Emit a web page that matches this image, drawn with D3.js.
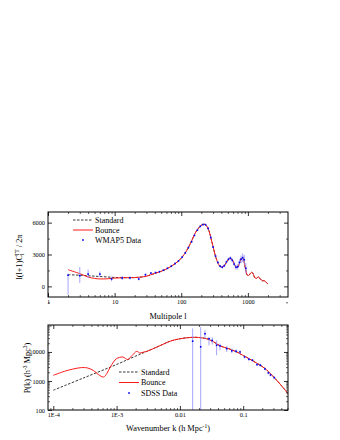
<!DOCTYPE html>
<html>
<head>
<meta charset="utf-8">
<script src="https://cdn.jsdelivr.net/npm/d3@7"></script>
<style>
  body { margin: 0; background: #fff; }
  text { font-family: "Liberation Serif", "Times New Roman", serif; fill: #000; }
</style>
</head>
<body>
<div id="chart"></div>
<script>
// ---- top panel: CMB TT spectrum ----
const ell = [2, 3, 4, 5, 6, 8, 10, 13, 17, 20, 25, 30, 40, 50, 60, 80, 100, 120, 140, 160, 180, 200, 222, 240, 260, 280, 300, 322, 350, 380, 406, 440, 480, 520, 540, 570, 610, 650, 681, 720, 770, 810, 840, 880, 920, 962, 1000, 1050, 1100, 1145, 1200, 1283, 1350, 1439, 1536, 1650, 1750, 1850, 2000];
const clStandard = [1100, 1050, 1000, 960, 930, 880, 840, 820, 820, 830, 880, 960, 1220, 1420, 1640, 2120, 2650, 3350, 4150, 4950, 5450, 5750, 5850, 5700, 5250, 4500, 3750, 2970, 2300, 1900, 1820, 1950, 2300, 2600, 2660, 2580, 2250, 1900, 1780, 1920, 2400, 2700, 2680, 2300, 1650, 1160, 1020, 1080, 1250, 1330, 1180, 790, 760, 900, 700, 520, 550, 420, 230];
const clBounce = [1570, 1200, 880, 750, 700, 720, 780, 810, 820, 830, 880, 960, 1220, 1420, 1640, 2120, 2650, 3350, 4150, 4950, 5450, 5750, 5850, 5700, 5250, 4500, 3750, 2970, 2300, 1900, 1820, 1950, 2300, 2600, 2660, 2580, 2250, 1900, 1780, 1920, 2400, 2700, 2680, 2300, 1650, 1160, 1020, 1080, 1250, 1330, 1180, 790, 760, 900, 700, 520, 550, 420, 230];

const wmapEll = [2, 3, 4, 6, 9, 13, 17, 23, 29, 35, 41, 47, 54, 62, 71, 81, 91, 103, 115, 128, 143, 158, 175, 193, 212, 232, 254, 277, 301, 327, 354, 383, 413, 444, 477, 511, 546, 583, 622, 662, 703, 746, 790, 836, 883, 932];
const wmapVal = [1050, 1000, 1160, 1150, 690, 790, 800, 690, 1100, 1250, 1300, 1380, 1520, 1700, 1900, 2150, 2400, 2750, 3150, 3650, 4200, 4800, 5300, 5650, 5820, 5800, 5450, 4600, 3700, 2850, 2250, 1900, 1800, 1950, 2300, 2550, 2650, 2450, 2100, 1800, 1850, 2250, 2550, 2700, 2500, 1700];
const wmapLo = [-780, 320, 790, 880, 480, 600, 650, 560, 980, 1150, 1220, 1300, 1440, 1620, 1820, 2070, 2320, 2660, 3060, 3560, 4110, 4700, 5200, 5550, 5720, 5700, 5340, 4490, 3590, 2740, 2130, 1780, 1680, 1810, 2150, 2390, 2470, 2250, 1880, 1560, 1590, 1950, 2200, 2300, 2050, 1200];
const wmapHi = [1200, 1820, 1570, 1400, 900, 980, 950, 820, 1220, 1350, 1380, 1460, 1600, 1780, 1980, 2230, 2480, 2840, 3240, 3740, 4290, 4900, 5400, 5750, 5920, 5900, 5560, 4710, 3810, 2960, 2370, 2020, 1920, 2090, 2450, 2710, 2830, 2650, 2320, 2040, 2110, 2550, 2900, 3100, 2950, 2200];

// ---- bottom panel: matter power spectrum ----
const kStd = [1e-4, 3e-4, 1e-3, 2e-3, 3e-3, 5e-3, 7e-3, 0.01, 0.0135, 0.0174, 0.022, 0.028, 0.035, 0.043, 0.06, 0.079, 0.1, 0.136, 0.22, 0.338, 0.51];
const pStd = [480, 1270, 3700, 7200, 10500, 17000, 23500, 28500, 31200, 32000, 30800, 27500, 21500, 16300, 12800, 10000, 7600, 5200, 2700, 1060, 370];
const kBounce = [1e-4, 1.5e-4, 2e-4, 2.8e-4, 3.5e-4, 4.3e-4, 5.2e-4, 6.2e-4, 7e-4, 7.85e-4, 9e-4, 1e-3, 1.25e-3, 1.5e-3, 1.75e-3, 2.08e-3, 2.35e-3, 2.7e-3, 3e-3, 5e-3, 7e-3, 0.01, 0.0135, 0.0174, 0.022, 0.028, 0.035, 0.043, 0.06, 0.079, 0.1, 0.136, 0.22, 0.338, 0.51];
const pBounce = [1570, 2150, 2550, 2900, 2800, 2300, 1650, 1370, 1800, 2900, 4600, 5900, 6700, 5500, 7500, 10500, 9200, 10000, 10500, 17000, 23500, 28500, 31200, 32000, 30800, 27500, 21500, 16300, 12800, 10000, 7600, 5200, 2700, 1060, 370];

const sdssK = [0.0159, 0.0213, 0.0249, 0.0288, 0.0324, 0.038, 0.043, 0.055, 0.066, 0.077, 0.089, 0.105, 0.123, 0.14, 0.165, 0.186, 0.22, 0.25, 0.27, 0.31];
const sdssP = [23500, 15000, 42500, 28600, 25000, 17000, 16200, 13000, 10900, 10600, 10000, 6700, 5600, 5200, 3670, 3500, 2600, 1900, 1600, 1300];
const sdssLo = [60, 60, 29000, 16800, 18000, 7700, 11300, 10000, 9000, 9000, 8800, 6000, 5000, 4700, 3300, 3100, 2350, 1700, 1430, 1160];
const sdssHi = [65000, 72000, 56000, 32000, 32000, 25000, 19400, 16200, 13000, 12300, 11300, 7400, 6200, 5700, 4050, 3900, 2880, 2100, 1780, 1450];

// ticks
const topXTicks = [1, 10, 100, 1000];
const topYTicks = [0, 3000, 6000];
const topYMinor = [-1500, 1500, 4500];
const botXTicks = [1e-4, 1e-3, 0.01, 0.1];
const botXLabels = ['1E-4', '1E-3', '0.01', '0.1'];
const botYTicks = [100, 1000, 10000];

const W = 340, H = 440;
const red = '#ff1a1a';
const blueDot = '#0000ee';
const blueBar = '#8f8fff';

const svg = d3.select('#chart').append('svg')
    .attr('width', W)
    .attr('height', H);
svg.append('rect').attr('width', W).attr('height', H).attr('fill', '#fff');

function minorsLog(lo, hi) {
    const out = [];
    for (let e = Math.floor(Math.log10(lo)); e <= Math.ceil(Math.log10(hi)); e++) {
        for (let m = 2; m <= 9; m++) {
            const v = m * Math.pow(10, e);
            if (v > lo && v < hi) out.push(v);
        }
    }
    return out;
}

function drawFrame(g, x, y, cfg) {
    const [x0, x1] = x.range();
    const [y0, y1] = y.range();
    const axes = [
        { ax: d3.axisBottom(x), tr: `translate(0,${y0})`, vals: cfg.xTicks, minor: cfg.xMinor, fmt: cfg.xFmt },
        { ax: d3.axisTop(x), tr: `translate(0,${y1})`, vals: cfg.xTicks, minor: cfg.xMinor, fmt: null },
        { ax: d3.axisLeft(y), tr: `translate(${x0},0)`, vals: cfg.yTicks, minor: cfg.yMinor, fmt: cfg.yFmt },
        { ax: d3.axisRight(y), tr: `translate(${x1},0)`, vals: cfg.yTicks, minor: cfg.yMinor, fmt: null }
    ];
    axes.forEach(a => {
        const major = g.append('g').attr('transform', a.tr)
            .call(a.ax.tickValues(a.vals).tickSizeInner(-4).tickSizeOuter(0).tickPadding(3)
                .tickFormat(a.fmt ? a.fmt : () => ''));
        major.select('.domain').remove();
        major.selectAll('line').attr('stroke', '#000').attr('stroke-width', 0.8);
        major.selectAll('text').attr('font-size', 6.3).attr('font-family', '"Liberation Serif", serif');
        const minor = g.append('g').attr('transform', a.tr)
            .call(a.ax.tickValues(a.minor).tickSizeInner(-2).tickSizeOuter(0).tickFormat(() => ''));
        minor.select('.domain').remove();
        minor.selectAll('line').attr('stroke', '#000').attr('stroke-width', 0.6);
    });
    g.append('rect')
        .attr('x', x0).attr('y', y1)
        .attr('width', x1 - x0).attr('height', y0 - y1)
        .attr('fill', 'none').attr('stroke', '#000').attr('stroke-width', 1);
}

function legend(g, lx, ly, labels, dy) {
    const fs = 8;
    labels.forEach((lab, i) => {
        const yy = ly + i * dy;
        if (lab.kind === 'dash') {
            g.append('line').attr('x1', lx).attr('x2', lx + 20).attr('y1', yy).attr('y2', yy)
                .attr('stroke', '#000').attr('stroke-width', 0.8).attr('stroke-dasharray', '2.5,1.5');
        } else if (lab.kind === 'line') {
            g.append('line').attr('x1', lx).attr('x2', lx + 20).attr('y1', yy).attr('y2', yy)
                .attr('stroke', red).attr('stroke-width', 1);
        } else {
            g.append('rect').attr('x', lx + 9.2).attr('y', yy - 0.8).attr('width', 1.6).attr('height', 1.6)
                .attr('fill', blueDot);
        }
        g.append('text').attr('x', lx + 22).attr('y', yy + 2.8).attr('font-size', fs).text(lab.text);
    });
}

// ================= top panel =================
const xT = d3.scaleLog().domain([1, 4000]).range([48, 288]);
const yT = d3.scaleLinear().domain([-1000, 7000]).range([297, 212]);
const gT = svg.append('g');

gT.append('clipPath').attr('id', 'clipT').append('rect')
    .attr('x', 48).attr('y', 212).attr('width', 240).attr('height', 85);
const plotT = gT.append('g').attr('clip-path', 'url(#clipT)');

const lineT = d3.line().curve(d3.curveCatmullRom.alpha(0.5));
plotT.append('path')
    .attr('d', lineT(ell.map((l, i) => [xT(l), yT(clStandard[i])])))
    .attr('fill', 'none').attr('stroke', '#000').attr('stroke-width', 0.8).attr('stroke-dasharray', '2.5,1.5');
plotT.append('path')
    .attr('d', lineT(ell.map((l, i) => [xT(l), yT(clBounce[i])])))
    .attr('fill', 'none').attr('stroke', red).attr('stroke-width', 1);

plotT.selectAll('line.err').data(wmapEll).join('line')
    .attr('class', 'err')
    .attr('x1', d => xT(d)).attr('x2', d => xT(d))
    .attr('y1', (d, i) => yT(wmapLo[i])).attr('y2', (d, i) => yT(wmapHi[i]))
    .attr('stroke', blueBar).attr('stroke-width', 1).attr('opacity', 0.8);
plotT.selectAll('rect.pt').data(wmapEll).join('rect')
    .attr('class', 'pt')
    .attr('x', d => xT(d) - 0.8).attr('y', (d, i) => yT(wmapVal[i]) - 0.8)
    .attr('width', 1.6).attr('height', 1.6).attr('fill', blueDot);

drawFrame(gT, xT, yT, {
    xTicks: topXTicks, xMinor: minorsLog(1, 4000), xFmt: d3.format('d'),
    yTicks: topYTicks, yMinor: topYMinor, yFmt: d3.format('d')
});

legend(gT, 73, 220, [
    { kind: 'dash', text: 'Standard' },
    { kind: 'line', text: 'Bounce' },
    { kind: 'dot', text: 'WMAP5 Data' }
], 10);

gT.append('text').attr('x', 168).attr('y', 318.5).attr('text-anchor', 'middle')
    .attr('font-size', 8.3).text('Multipole l');

const tyT = gT.append('text').attr('transform', 'translate(22,257) rotate(-90)')
    .attr('text-anchor', 'middle').attr('font-size', 8.3);
tyT.append('tspan').text('l(l+1)C');
tyT.append('tspan').attr('font-size', 5.5).attr('dy', 2).text('l');
tyT.append('tspan').attr('font-size', 5.5).attr('dx', -2.5).attr('dy', -5.5).text('TT');
tyT.append('tspan').attr('dy', 3.5).text(' / 2\u03c0');

// ================= bottom panel =================
const xB = d3.scaleLog().domain([8.25e-5, 0.51]).range([48, 288]);
const yB = d3.scaleLog().domain([100, 85000]).range([410, 325]);
const gB = svg.append('g');

gB.append('clipPath').attr('id', 'clipB').append('rect')
    .attr('x', 48).attr('y', 325).attr('width', 240).attr('height', 85);
const plotB = gB.append('g').attr('clip-path', 'url(#clipB)');

const lineB = d3.line().curve(d3.curveCatmullRom.alpha(0.5));
plotB.append('path')
    .attr('d', lineB(kStd.map((k, i) => [xB(k), yB(pStd[i])])))
    .attr('fill', 'none').attr('stroke', '#000').attr('stroke-width', 0.8).attr('stroke-dasharray', '2.5,1.5');
plotB.append('path')
    .attr('d', lineB(kBounce.map((k, i) => [xB(k), yB(pBounce[i])])))
    .attr('fill', 'none').attr('stroke', red).attr('stroke-width', 1);

plotB.selectAll('line.err').data(sdssK).join('line')
    .attr('class', 'err')
    .attr('x1', d => xB(d)).attr('x2', d => xB(d))
    .attr('y1', (d, i) => yB(sdssLo[i])).attr('y2', (d, i) => yB(sdssHi[i]))
    .attr('stroke', blueBar).attr('stroke-width', 1).attr('opacity', 0.8);
plotB.selectAll('rect.pt').data(sdssK).join('rect')
    .attr('class', 'pt')
    .attr('x', d => xB(d) - 0.8).attr('y', (d, i) => yB(sdssP[i]) - 0.8)
    .attr('width', 1.6).attr('height', 1.6).attr('fill', blueDot);

drawFrame(gB, xB, yB, {
    xTicks: botXTicks, xMinor: minorsLog(8.25e-5, 0.51), xFmt: (d, i) => botXLabels[i],
    yTicks: botYTicks, yMinor: minorsLog(100, 85000), yFmt: d3.format('d')
});

legend(gB, 119, 372, [
    { kind: 'dash', text: 'Standard' },
    { kind: 'line', text: 'Bounce' },
    { kind: 'dot', text: 'SDSS Data' }
], 10.5);

const txB = gB.append('text').attr('x', 168).attr('y', 431).attr('text-anchor', 'middle')
    .attr('font-size', 8.3);
txB.append('tspan').text('Wavenumber k (h Mpc');
txB.append('tspan').attr('font-size', 5.5).attr('dy', -3.5).text('-1');
txB.append('tspan').attr('dy', 3.5).text(')');

const tyB = gB.append('text').attr('transform', 'translate(30,368) rotate(-90)')
    .attr('text-anchor', 'middle').attr('font-size', 8.3);
tyB.append('tspan').text('P(k) (h');
tyB.append('tspan').attr('font-size', 5.5).attr('dy', -3.5).text('-3');
tyB.append('tspan').attr('dy', 3.5).text(' Mpc');
tyB.append('tspan').attr('font-size', 5.5).attr('dy', -3.5).text('3');
tyB.append('tspan').attr('dy', 3.5).text(')');
</script>
</body>
</html>
